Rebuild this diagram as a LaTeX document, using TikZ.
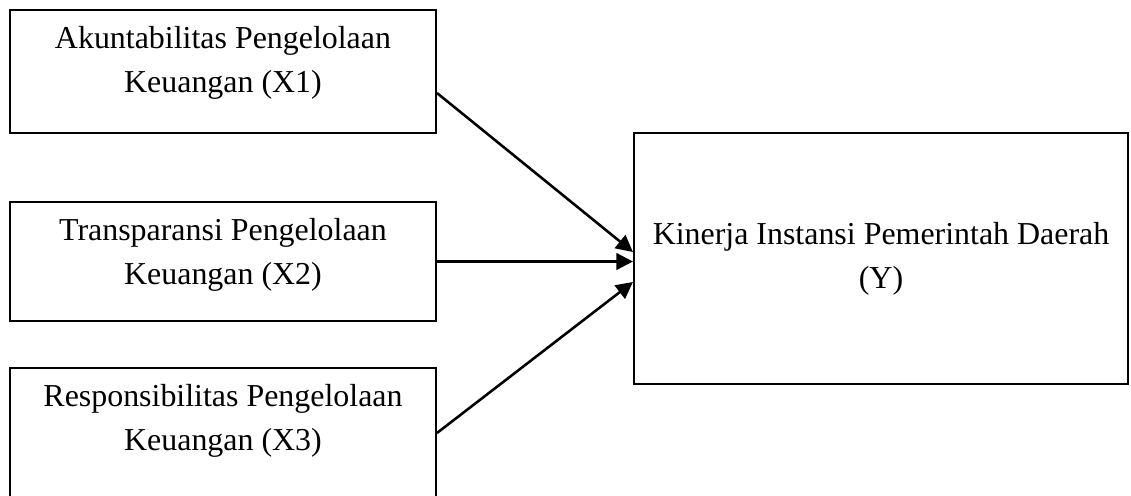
\documentclass[tikz,border=0pt]{standalone}
\usepackage{fontspec}
\setmainfont{Liberation Serif}
\usetikzlibrary{arrows.meta,positioning,calc}

\begin{document}
\begin{tikzpicture}[x=0.39pt,y=-0.39pt,
    box/.style={draw, line width=0.8pt, minimum width=166.1pt, inner sep=0pt},
    boxtext/.style={align=center, inner sep=0pt, font=\fontsize{12.45}{17.2}\selectfont},
    arr/.style={line width=1pt, -{Triangle[length=6.5pt,width=6.5pt]}}]
  \useasboundingbox (0,0) rectangle (1131,495);
  \clip (0,0) rectangle (1131,495);

  % variabel X
  \node[box, minimum height=48pt] (x1) at (223,71.5) {};
  \node[box, minimum height=46.4pt] (x2) at (223,261.5) {};
  \node[box, minimum height=51.5pt] (x3) at (223,434) {};
  \node[boxtext, below=6.4pt of x1.north] (x1t) {Akuntabilitas Pengelolaan\\Keuangan (X1)};
  \node[boxtext, below=6.4pt of x2.north] (x2t) {Transparansi Pengelolaan\\Keuangan (X2)};
  \node[boxtext, below=6.4pt of x3.north] (x3t) {Responsibilitas Pengelolaan\\Keuangan (X3)};

  % variabel Y
  \node[box, boxtext, minimum width=192.7pt, minimum height=97.9pt] (y) at (881,258.5)
    {Kinerja Instansi Pemerintah Daerah\\(Y)};

  % panah
  \draw[arr] ($(x1.east)+(0,21.5)$) -- ($(y.west)+(0,-6.5)$);
  \draw[arr] (x2.east) -- (x2.east -| y.west);
  \draw[arr] ($(x3.east)+(0,-1)$) -- ($(y.west)+(0,23.5)$);
\end{tikzpicture}
\end{document}
